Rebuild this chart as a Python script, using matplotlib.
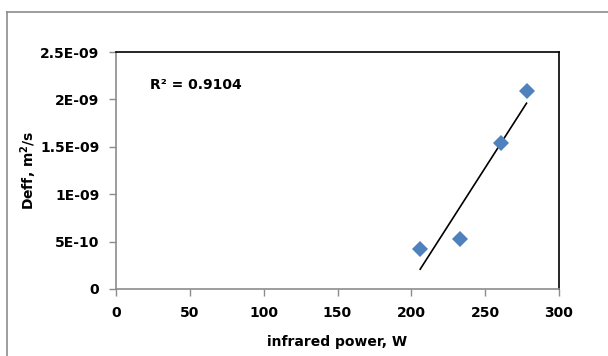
import numpy as np
import matplotlib
matplotlib.use("Agg")
import matplotlib.pyplot as plt
from matplotlib.lines import Line2D

power_w = [206, 233, 261, 278]
deff = [0.42e-9, 0.53e-9, 1.54e-9, 2.09e-9]
x_ticks = [0, 50, 100, 150, 200, 250, 300]
y_ticks = [0, 0.5e-9, 1.0e-9, 1.5e-9, 2.0e-9, 2.5e-9]
y_tick_labels = ["0", "5E-10", "1E-09", "1.5E-09", "2E-09", "2.5E-09"]
r2_label = "R² = 0.9104"

plt.rcParams['font.family'] = ['DejaVu Sans']
fig = plt.figure(figsize=(6.08, 3.56), dpi=100)
ax = fig.add_axes([116/608, 1-289/356, (559-116)/608, (289-52)/356])

ax.plot(power_w, deff, linestyle='none', marker='D', markersize=8.5,
        color='#4F81BD', markeredgewidth=0, zorder=3)
coef = np.polyfit(power_w, deff, 1)
xs = np.array([min(power_w), max(power_w)])
ax.plot(xs, np.polyval(coef, xs), color='black', linewidth=1.2, zorder=2)

ax.set_xlim(0, 300)
ax.set_ylim(0, 2.5e-9)
ax.set_xticks(x_ticks)
ax.set_xticklabels([str(v) for v in x_ticks])
ax.set_yticks(y_ticks)
ax.set_yticklabels(y_tick_labels)

for s in ['left', 'bottom']:
    ax.spines[s].set_color('#8c8c8c')
    ax.spines[s].set_linewidth(1.2)
for s in ['top', 'right']:
    ax.spines[s].set_color('black')
    ax.spines[s].set_linewidth(1.2)
ax.tick_params(axis='both', direction='out', length=5, color='#8c8c8c', width=1,
               labelsize=10)
ax.tick_params(axis='y', pad=7)
ax.tick_params(axis='x', pad=7)
for lbl in ax.get_xticklabels() + ax.get_yticklabels():
    lbl.set_fontweight('bold')

ax.set_xlabel("infrared power, W", fontsize=10, fontweight='bold', labelpad=11)
ax.set_ylabel("Deff, m$^\\mathbf{2}$/s", fontsize=10, fontweight='bold', labelpad=1)
ax.text(0.077, 0.86, r2_label, transform=ax.transAxes, fontsize=10,
        fontweight='bold', ha='left', va='center')

# outer chart frame (left and top edges)
fig.add_artist(Line2D([7/608, 7/608], [0, 1-12/356], transform=fig.transFigure,
                      color='#8c8c8c', linewidth=1.2))
fig.add_artist(Line2D([7/608, 1], [1-12/356, 1-12/356], transform=fig.transFigure,
                      color='#8c8c8c', linewidth=1.2))

fig.savefig("out.png", dpi=100)
